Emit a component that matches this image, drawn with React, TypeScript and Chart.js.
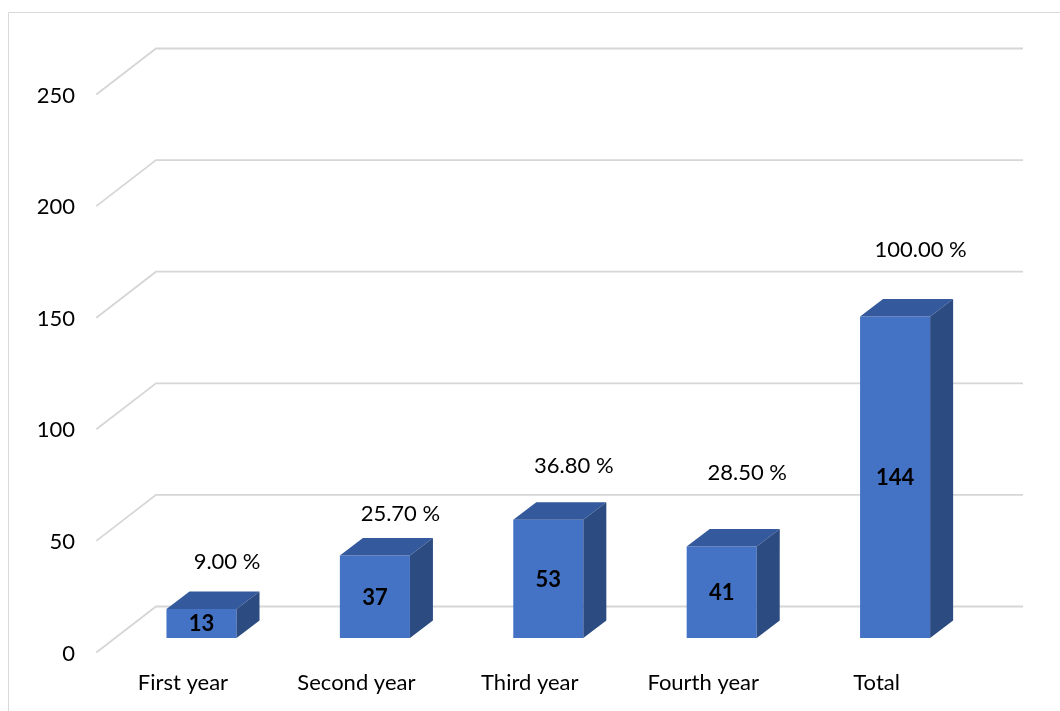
import { useEffect, useRef } from "react";
import { Chart, registerables } from "chart.js";

Chart.register(...registerables);

// Students per study year, plus the overall total
const categories = ["First year", "Second year", "Third year", "Fourth year", "Total"];
const studentCounts = [13, 37, 53, 41, 144];
const sharePercent = [9.0, 25.7, 36.8, 28.5, 100.0];
const yTicks = [0, 50, 100, 150, 200, 250];

// How far each percentage label floats above the top of its column
const shareLift = [30, 25, 37, 57, 50];

const FRONT = "#4472C4";
const TOP = "#34599C";
const SIDE = "#2C4B80";
const GRID = "#d6d6d6";
const FONT = "Lato, 'Open Sans', sans-serif";

// Pseudo-3D geometry: column depth and the back wall / front floor edge offsets
const DEPTH_X = 23;
const DEPTH_Y = -17.5;
const WALL_X = 41.2;
const WALL_Y = -31.5;
const FLOOR_X = -18.5;
const FLOOR_Y = 14.5;

const threeD = {
  id: "threeD",
  beforeDatasetsDraw(chart: any) {
    const { ctx, chartArea } = chart;
    const y = chart.scales.y;
    ctx.save();
    // outer frame (top and left edges)
    ctx.strokeStyle = "#d9d9d9";
    ctx.lineWidth = 1;
    ctx.beginPath();
    ctx.moveTo(8.5, chart.height);
    ctx.lineTo(8.5, 12.5);
    ctx.lineTo(chart.width, 12.5);
    ctx.stroke();

    // back wall gridlines with their diagonal side-wall edges
    ctx.strokeStyle = GRID;
    ctx.lineWidth = 1.8;
    ctx.lineCap = "butt";
    for (const v of yTicks) {
      const py = y.getPixelForValue(v);
      const bx = chartArea.left + WALL_X;
      const by = py + WALL_Y;
      ctx.beginPath();
      ctx.moveTo(chartArea.left + FLOOR_X, py + FLOOR_Y);
      ctx.lineTo(bx, by);
      ctx.lineTo(chartArea.right + WALL_X, by);
      ctx.stroke();
    }

    // y tick labels on the front plane
    ctx.fillStyle = "#000";
    ctx.font = `22px ${FONT}`;
    ctx.textAlign = "right";
    ctx.textBaseline = "alphabetic";
    for (const v of yTicks) {
      const py = y.getPixelForValue(v);
      ctx.fillText(String(v), 75, py + 22.5);
    }
    ctx.restore();
  },
  afterDatasetsDraw(chart: any) {
    const { ctx } = chart;
    const meta = chart.getDatasetMeta(0);
    const bottomY = chart.scales.y.getPixelForValue(0);
    ctx.save();
    meta.data.forEach((bar: any, i: number) => {
      const half = bar.width / 2;
      const l = bar.x - half;
      const r = bar.x + half;
      const t = bar.y;
      const b = bar.base;
      // top face
      ctx.fillStyle = TOP;
      ctx.beginPath();
      ctx.moveTo(l, t);
      ctx.lineTo(l + DEPTH_X, t + DEPTH_Y);
      ctx.lineTo(r + DEPTH_X, t + DEPTH_Y);
      ctx.lineTo(r, t);
      ctx.closePath();
      ctx.fill();
      // right side face
      ctx.fillStyle = SIDE;
      ctx.beginPath();
      ctx.moveTo(r, t);
      ctx.lineTo(r + DEPTH_X, t + DEPTH_Y);
      ctx.lineTo(r + DEPTH_X, b + DEPTH_Y);
      ctx.lineTo(r, b);
      ctx.closePath();
      ctx.fill();

      // value label on the front face
      ctx.fillStyle = "#000";
      ctx.font = `bold 22px ${FONT}`;
      ctx.textAlign = "center";
      ctx.textBaseline = "alphabetic";
      ctx.fillText(String(studentCounts[i]), bar.x, (t + b) / 2 + 8);

      // percentage share above the column
      ctx.font = `22px ${FONT}`;
      ctx.fillText(
        `${sharePercent[i].toFixed(2)} %`,
        bar.x + 25.5,
        t + DEPTH_Y - shareLift[i] + 8
      );

      // category label on the front floor edge
      ctx.fillText(categories[i], bar.x + FLOOR_X, bottomY + 52);
    });
    ctx.restore();
  },
};

export default function App() {
  const canvasRef = useRef<HTMLCanvasElement | null>(null);

  useEffect(() => {
    const canvas = canvasRef.current;
    if (!canvas) return;
    const chart = new Chart(canvas, {
      type: "bar",
      data: {
        labels: categories,
        datasets: [
          {
            data: studentCounts,
            backgroundColor: FRONT,
            borderWidth: 0,
            barPercentage: 0.404,
            categoryPercentage: 1,
          },
        ],
      },
      options: {
        responsive: false,
        devicePixelRatio: 1,
        animation: false,
        layout: { padding: { left: 114.8, right: 78.2, top: 80, bottom: 73 } },
        scales: {
          x: { display: false },
          y: { display: false, min: 0, max: 250 },
        },
        plugins: {
          legend: { display: false },
          tooltip: { enabled: false },
        },
      },
      plugins: [threeD],
    });
    return () => chart.destroy();
  }, []);

  return (
    <div style={{ position: "absolute", left: 0, top: 0, width: 1060, height: 711, background: "#fff" }}>
      <canvas ref={canvasRef} width={1060} height={711} />
    </div>
  );
}
